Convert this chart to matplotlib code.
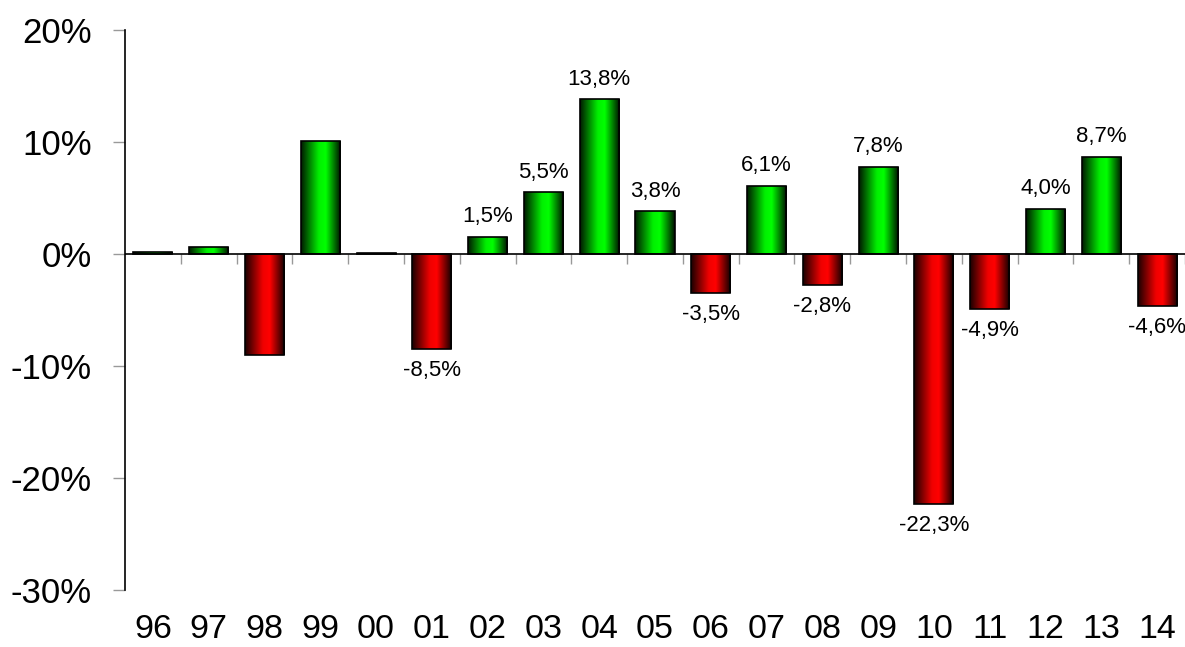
import matplotlib
matplotlib.use("Agg")
import matplotlib.pyplot as plt
import numpy as np
from matplotlib.colors import LinearSegmentedColormap
from matplotlib.ticker import FuncFormatter

plt.rcParams['font.family'] = ['Liberation Sans', 'DejaVu Sans']

# Data (yearly change, %)
years = ["96", "97", "98", "99", "00", "01", "02", "03", "04", "05",
         "06", "07", "08", "09", "10", "11", "12", "13", "14"]
values = [0.2, 0.6, -9.0, 10.1, 0.05, -8.5, 1.5, 5.5, 13.8, 3.8,
          -3.5, 6.1, -2.8, 7.8, -22.3, -4.9, 4.0, 8.7, -4.6]
# only these years carry a value label
labelled = years[5:]

# horizontal "cylinder" shading for the bars
cmGreen = LinearSegmentedColormap.from_list(
    "g", [(0, "#001a00"), (0.45, "#00f000"), (0.62, "#00ff00"), (1, "#000d00")])
cmRed = LinearSegmentedColormap.from_list(
    "r", [(0, "#1a0000"), (0.45, "#f00000"), (0.62, "#ff0000"), (1, "#0d0000")])


def fmt_pct(v):
    return ("%.1f%%" % v).replace(".", ",")


fig = plt.figure(figsize=(11.85, 6.47), dpi=100)
ax = fig.add_axes([0.1055, 0.0881, 0.8945, 0.8655])

x = np.arange(len(years))
width = 0.70
bars = ax.bar(x, values, width, facecolor="none", edgecolor="black",
              linewidth=1.2, zorder=3)

grad = np.linspace(0, 1, 256).reshape(1, -1)
for b, v in zip(bars, values):
    x0, y0 = b.get_x(), b.get_y()
    w, h = b.get_width(), b.get_height()
    cm = cmGreen if v >= 0 else cmRed
    im = ax.imshow(grad, cmap=cm, aspect="auto",
                   extent=[x0, x0 + w, y0, y0 + h], zorder=2)
    im.set_clip_path(b)

for i, (yr, v) in enumerate(zip(years, values)):
    if yr not in labelled:
        continue
    if v >= 0:
        ax.annotate(fmt_pct(v), (i, v), xytext=(0, 7), textcoords="offset points",
                    ha="center", va="bottom", fontsize=16)
    else:
        ax.annotate(fmt_pct(v), (i, v), xytext=(0, -8), textcoords="offset points",
                    ha="center", va="top", fontsize=16)

ax.set_xlim(-0.5, len(years) - 0.5)
ax.set_ylim(-30, 20)

# y axis
ax.set_yticks(np.arange(-30, 21, 10))
ax.yaxis.set_major_formatter(FuncFormatter(lambda v, p: "%d%%" % v))
ax.tick_params(axis="y", length=9, color="#999999", width=1, labelsize=25, pad=15)

# x axis: labels at the bottom, tick marks on the zero line
ax.set_xticks(x, years)
ax.tick_params(axis="x", length=0, labelsize=24.5, pad=17)
ax.axhline(0, color="black", linewidth=1.2, zorder=4)
ax.vlines(np.arange(len(years)) + 0.5, -0.9, 0, color="#999999", linewidth=1, zorder=1)

for side in ["top", "right", "bottom"]:
    ax.spines[side].set_visible(False)
ax.spines["left"].set_linewidth(1.2)

plt.savefig("out.png", dpi=100)
